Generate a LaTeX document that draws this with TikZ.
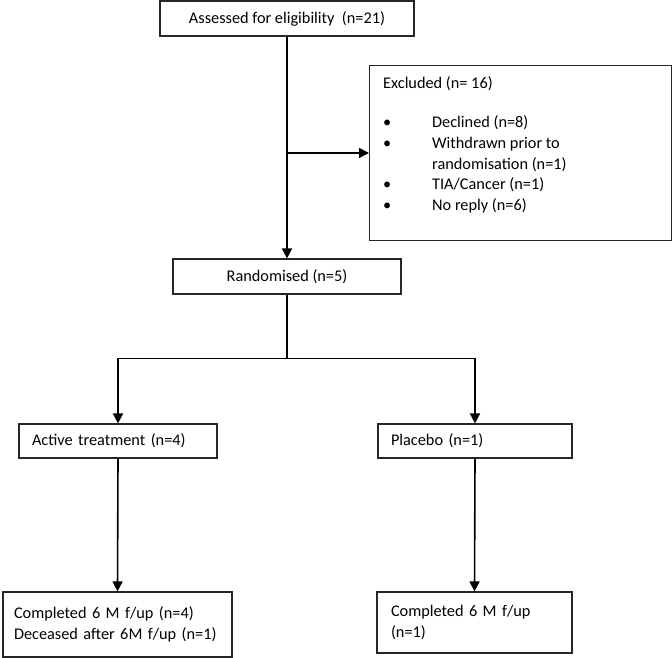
\documentclass[tikz,border=0pt]{standalone}
\usepackage{fontspec}
\setmainfont{Carlito}
\usetikzlibrary{arrows.meta,calc}
\begin{document}
\begin{tikzpicture}[x=1pt,y=-1pt,
  font=\fontsize{16.3}{20.5}\selectfont,
  box/.style={draw=black!85, line width=1.2pt, inner sep=0pt, fill=white},
  lbox/.style={box, align=left},
  arr/.style={line width=1.6pt, -{Triangle[width=10pt,length=10pt]}},
  ln/.style={line width=1.6pt},
  txt/.style={anchor=base west, inner sep=0pt}]
\useasboundingbox (0,0) rectangle (672,658);
\fill[white] (0,0) rectangle (672,658);
% boxes
\node[box, minimum width=254pt, minimum height=35pt] (assess) at (287,18.5) {Assessed for eligibility\ \ (n=21)};
\node[box, minimum width=302pt, minimum height=175pt, anchor=north west] (excl) at (369,65) {};
\node[txt] (exT) at (383,89) {Excluded (n= 16)};
\node[txt] (ex1) at (383,128) {\makebox[49pt][l]{•}Declined (n=8)};
\node[txt] (ex2) at (383,148.5) {\makebox[49pt][l]{•}Withdrawn prior to};
\node[txt] (ex2b) at (432,169) {randomisation (n=1)};
\node[txt] (ex3) at (383,189.5) {\makebox[49pt][l]{•}TIA/Cancer (n=1)};
\node[txt] (ex4) at (383,210) {\makebox[49pt][l]{•}No reply (n=6)};
\node[box, minimum width=228pt, minimum height=35pt] (rand) at (287,276.5) {Randomised (n=5)};
\node[lbox, text width=172pt, inner xsep=13pt, minimum height=34pt] (active) at (118,441) {Active treatment (n=4)};
\node[lbox, text width=168pt, inner xsep=13pt, minimum height=34pt] (placebo) at (475,441) {Placebo (n=1)};
\node[lbox, text width=207pt, inner xsep=11pt, minimum height=65pt] (bot1) at (117.5,624.5) {Completed 6 M f/up (n=4)\\Deceased after 6M f/up (n=1)};
\node[lbox, text width=167pt, inner xsep=14pt, minimum height=61pt] (bot2) at (474.5,622.5) {Completed 6 M f/up\\(n=1)};
% connectors
\coordinate (br) at (287,153);
\coordinate (sp) at (287,358.5);
\draw[arr] (assess.south) -- (rand.north);
\draw[arr] (br) -- (br -| excl.west);
\draw[ln] (rand.south) -- (sp);
\draw[arr] (sp) -| (active.north);
\draw[arr] (sp) -| (placebo.north);
\draw[arr] (active.south) -- (bot1.north);
\draw[arr] (placebo.south) -- (bot2.north);
\end{tikzpicture}
\end{document}
